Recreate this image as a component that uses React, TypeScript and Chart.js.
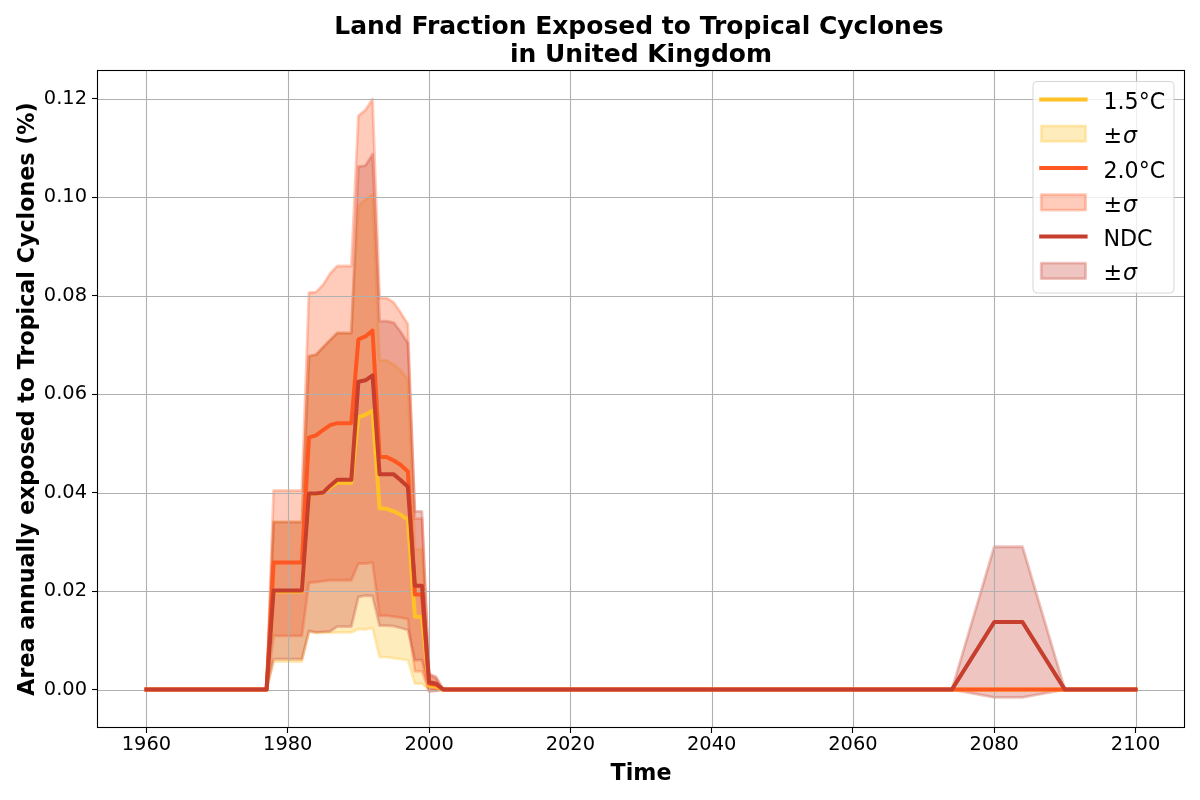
import React, { useEffect, useRef } from 'react';
import { Chart, registerables } from 'chart.js';

Chart.register(...registerables);

// ---- data ----
const years = [
  1960, 1977, 1978, 1979, 1980, 1981, 1982, 1983, 1984, 1985, 1986, 1987, 1988, 1989,
  1990, 1991, 1992, 1993, 1994, 1995, 1996, 1997, 1998, 1999, 2000, 2001, 2002,
  2074, 2080, 2084, 2090, 2100,
];

const mean15 = [
  0, 0, 0.0199, 0.0199, 0.0199, 0.0199, 0.0199, 0.0397, 0.0397, 0.04, 0.041, 0.042, 0.042, 0.042,
  0.0553, 0.0558, 0.0566, 0.0368, 0.0367, 0.0362, 0.0355, 0.0345, 0.0148, 0.0148, 0.0008, 0.0006, 0,
  0, 0, 0, 0, 0,
];
const upper15 = [
  0, 0, 0.0341, 0.0341, 0.0341, 0.0341, 0.0341, 0.0677, 0.068, 0.0695, 0.071, 0.0724, 0.0724, 0.0724,
  0.0982, 0.0995, 0.1005, 0.0669, 0.0668, 0.066, 0.0648, 0.063, 0.0285, 0.0285, 0.0018, 0.0014, 0,
  0, 0, 0, 0, 0,
];
const lower15 = [
  0, 0, 0.0057, 0.0057, 0.0057, 0.0057, 0.0057, 0.0117, 0.0115, 0.0115, 0.0115, 0.0116, 0.0116, 0.0116,
  0.0123, 0.0122, 0.0125, 0.0066, 0.0066, 0.0064, 0.0062, 0.006, 0.0012, 0.0012, 0, 0, 0,
  0, 0, 0, 0, 0,
];

const mean20 = [
  0, 0, 0.0258, 0.0258, 0.0258, 0.0258, 0.0258, 0.0512, 0.0516, 0.0527, 0.0537, 0.0541, 0.0541, 0.0541,
  0.0711, 0.0717, 0.0729, 0.0472, 0.0472, 0.0465, 0.0456, 0.0443, 0.0193, 0.0193, 0.0012, 0.001, 0,
  0, 0, 0, 0, 0,
];
const upper20 = [
  0, 0, 0.0404, 0.0404, 0.0404, 0.0404, 0.0404, 0.0806, 0.0807, 0.0822, 0.0845, 0.086, 0.086, 0.086,
  0.1165, 0.1177, 0.1199, 0.0795, 0.0795, 0.0786, 0.0765, 0.0742, 0.0347, 0.0347, 0.003, 0.0022, 0,
  0, 0, 0, 0, 0,
];
const lower20 = [
  0, 0, 0.0109, 0.0109, 0.0109, 0.0109, 0.0109, 0.0217, 0.0218, 0.022, 0.0222, 0.0222, 0.0222, 0.0222,
  0.0256, 0.0256, 0.0258, 0.015, 0.015, 0.0148, 0.0146, 0.0143, 0.0037, 0.0037, -0.0004, -0.0002, 0,
  0, 0, 0, 0, 0,
];

const meanNDC = [
  0, 0, 0.0201, 0.0201, 0.0201, 0.0201, 0.0201, 0.0398, 0.0398, 0.04, 0.0414, 0.0426, 0.0426, 0.0426,
  0.0625, 0.0628, 0.0638, 0.0437, 0.0437, 0.0437, 0.0425, 0.0412, 0.0211, 0.0211, 0.0015, 0.0012, 0,
  0, 0.0137, 0.0137, 0, 0,
];
const upperNDC = [
  0, 0, 0.034, 0.034, 0.034, 0.034, 0.034, 0.0677, 0.068, 0.0695, 0.071, 0.0724, 0.0724, 0.0724,
  0.1062, 0.1064, 0.1087, 0.0748, 0.0748, 0.0745, 0.0726, 0.0703, 0.0362, 0.0362, 0.0032, 0.0026, 0,
  0, 0.029, 0.029, 0, 0,
];
const lowerNDC = [
  0, 0, 0.0062, 0.0062, 0.0062, 0.0062, 0.0062, 0.0119, 0.0116, 0.0117, 0.0118, 0.0128, 0.0128, 0.0128,
  0.0188, 0.0191, 0.019, 0.013, 0.013, 0.0129, 0.0125, 0.0121, 0.006, 0.006, -0.0002, -0.0002, 0,
  0, -0.0016, -0.0016, 0, 0,
];

const xTicks = [1960, 1980, 2000, 2020, 2040, 2060, 2080, 2100];
const yTicks = [0, 0.02, 0.04, 0.06, 0.08, 0.1, 0.12];

const seriesNames = ['1.5°C', '2.0°C', 'NDC'];
const bandName = '±σ';
const titleLines = ['Land Fraction Exposed to Tropical Cyclones', 'in United Kingdom'];
const xTitle = 'Time';
const yTitle = 'Area annually exposed to Tropical Cyclones (%)';

// ---- styles ----
const C15: [number, number, number] = [255, 193, 37];
const C20: [number, number, number] = [255, 87, 34];
const CNDC: [number, number, number] = [198, 62, 46];
const rgba = (c: [number, number, number], a: number) => `rgba(${c[0]},${c[1]},${c[2]},${a})`;
const FONT = '"DejaVu Sans", "Liberation Sans", sans-serif';

const pts = (ys: number[]) => years.map((x, i) => ({ x, y: ys[i] }));

function bandSet(ys: number[], c: [number, number, number], order: number, fill: any) {
  return {
    data: pts(ys),
    borderColor: rgba(c, 0.3),
    backgroundColor: rgba(c, 0.3),
    borderWidth: 2.8,
    borderJoinStyle: 'round',
    pointRadius: 0,
    pointHoverRadius: 0,
    tension: 0,
    fill,
    order,
  };
}
function lineSet(ys: number[], c: [number, number, number], order: number) {
  return {
    data: pts(ys),
    borderColor: rgba(c, 1),
    backgroundColor: rgba(c, 1),
    borderWidth: 4,
    borderJoinStyle: 'round',
    borderCapStyle: 'square',
    pointRadius: 0,
    pointHoverRadius: 0,
    tension: 0,
    fill: false,
    order,
  };
}

const overlayPlugin = {
  id: 'overlay',
  afterDatasetDraw(chart: any, args: any) {
    if (args.index !== 5) return;
    // grid above bands, below lines (as matplotlib zorder)
    const { ctx, chartArea: a, scales } = chart;
    ctx.save();
    ctx.beginPath();
    ctx.rect(a.left, a.top, a.right - a.left, a.bottom - a.top);
    ctx.clip();
    ctx.strokeStyle = '#b0b0b0';
    ctx.lineWidth = 1.1;
    for (const v of xTicks) {
      const px = Math.round(scales.x.getPixelForValue(v)) + 0.5;
      ctx.beginPath();
      ctx.moveTo(px, a.top);
      ctx.lineTo(px, a.bottom);
      ctx.stroke();
    }
    for (const v of yTicks) {
      const py = Math.round(scales.y.getPixelForValue(v)) + 0.5;
      ctx.beginPath();
      ctx.moveTo(a.left, py);
      ctx.lineTo(a.right, py);
      ctx.stroke();
    }
    ctx.restore();
  },
  afterDraw(chart: any) {
    const { ctx, chartArea: a } = chart;
    ctx.save();
    // frame
    ctx.strokeStyle = '#000';
    ctx.lineWidth = 1.1;
    ctx.strokeRect(Math.round(a.left) + 0.5, Math.round(a.top) + 0.5, Math.round(a.right - a.left) - 1, Math.round(a.bottom - a.top) - 1);

    const cx = (a.left + a.right) / 2;
    // title
    ctx.fillStyle = '#000';
    ctx.textAlign = 'center';
    ctx.textBaseline = 'alphabetic';
    ctx.font = `bold 25px ${FONT}`;
    ctx.fillText(titleLines[0], cx - 2, 34);
    ctx.fillText(titleLines[1], cx, 61.5);
    // axis titles
    ctx.font = `bold 22.2px ${FONT}`;
    ctx.fillText(xTitle, cx, 779.5);
    ctx.save();
    ctx.translate(33.5, (a.top + a.bottom) / 2);
    ctx.rotate(-Math.PI / 2);
    ctx.fillText(yTitle, 0, 0);
    ctx.restore();

    // legend
    const lx = 1033, ly = 81.5, lw = 141, lh = 211.5, r = 4;
    ctx.beginPath();
    ctx.moveTo(lx + r, ly);
    ctx.lineTo(lx + lw - r, ly);
    ctx.arcTo(lx + lw, ly, lx + lw, ly + r, r);
    ctx.lineTo(lx + lw, ly + lh - r);
    ctx.arcTo(lx + lw, ly + lh, lx + lw - r, ly + lh, r);
    ctx.lineTo(lx + r, ly + lh);
    ctx.arcTo(lx, ly + lh, lx, ly + lh - r, r);
    ctx.lineTo(lx, ly + r);
    ctx.arcTo(lx, ly, lx + r, ly, r);
    ctx.closePath();
    ctx.fillStyle = 'rgba(255,255,255,0.8)';
    ctx.fill();
    ctx.strokeStyle = 'rgba(204,204,204,0.8)';
    ctx.lineWidth = 1;
    ctx.stroke();

    const cols = [C15, C20, CNDC];
    const hx0 = 1041.2, hx1 = 1085.6, tx = 1103.4;
    for (let i = 0; i < 6; i++) {
      const cy = 99.4 + i * 34.3;
      const c = cols[Math.floor(i / 2)];
      if (i % 2 === 0) {
        ctx.strokeStyle = rgba(c, 1);
        ctx.lineWidth = 4;
        ctx.lineCap = 'square';
        ctx.beginPath();
        ctx.moveTo(hx0, cy);
        ctx.lineTo(hx1, cy);
        ctx.stroke();
        ctx.lineCap = 'butt';
        ctx.fillStyle = '#000';
        ctx.textAlign = 'left';
        ctx.font = `22.2px ${FONT}`;
        ctx.fillText(seriesNames[i / 2], tx, cy + 9.5);
      } else {
        const h = 15.5;
        ctx.fillStyle = rgba(c, 0.3);
        ctx.fillRect(hx0, cy - h / 2, hx1 - hx0, h);
        ctx.strokeStyle = rgba(c, 0.3);
        ctx.lineWidth = 2.8;
        ctx.lineJoin = 'round';
        ctx.strokeRect(hx0, cy - h / 2, hx1 - hx0, h);
        ctx.fillStyle = '#000';
        ctx.textAlign = 'left';
        ctx.font = `22.2px ${FONT}`;
        const pm = bandName.slice(0, 1);
        const sg = bandName.slice(1);
        ctx.fillText(pm, tx, cy + 9.5);
        const w = ctx.measureText(pm).width;
        ctx.font = `italic 22.2px ${FONT}`;
        ctx.fillText(sg, tx + w + 1, cy + 9.5);
      }
    }
    ctx.restore();
  },
};

export default function App() {
  const ref = useRef<HTMLCanvasElement | null>(null);
  useEffect(() => {
    if (!ref.current) return;
    const datasets: any[] = [
      bandSet(upper15, C15, 9, 1),
      bandSet(lower15, C15, 8, false),
      bandSet(upper20, C20, 7, 3),
      bandSet(lower20, C20, 6, false),
      bandSet(upperNDC, CNDC, 5, 5),
      bandSet(lowerNDC, CNDC, 4, false),
      lineSet(mean15, C15, 3),
      lineSet(mean20, C20, 2),
      lineSet(meanNDC, CNDC, 1),
    ];
    const tickFont = { family: FONT, size: 19.4 };
    const chart = new Chart(ref.current, {
      type: 'line',
      data: { datasets },
      options: {
        animation: false,
        responsive: false,
        maintainAspectRatio: false,
        events: [],
        layout: { padding: { left: 0, top: 70, right: 15, bottom: 0 } },
        plugins: {
          legend: { display: false },
          title: { display: false },
          tooltip: { enabled: false },
          filler: { propagate: false },
        },
        scales: {
          x: {
            type: 'linear',
            min: 1953,
            max: 2107,
            border: { display: false },
            grid: { display: true, drawOnChartArea: false, drawTicks: true, tickLength: 5, tickColor: '#000', tickWidth: 1.1 },
            ticks: {
              color: '#000',
              font: tickFont,
              padding: 0.7,
              maxRotation: 0,
              autoSkip: false,
              callback: (v: any) => String(v),
            },
            afterBuildTicks: (s: any) => {
              s.ticks = xTicks.map((value) => ({ value }));
            },
            afterFit: (s: any) => {
              s.height = 72;
            },
          },
          y: {
            type: 'linear',
            min: -0.0078,
            max: 0.1258,
            border: { display: false },
            grid: { display: true, drawOnChartArea: false, drawTicks: true, tickLength: 5, tickColor: '#000', tickWidth: 1.1 },
            ticks: {
              color: '#000',
              font: tickFont,
              padding: 5,
              callback: (v: any) => Number(v).toFixed(2),
            },
            afterBuildTicks: (s: any) => {
              s.ticks = yTicks.map((value) => ({ value }));
            },
            afterFit: (s: any) => {
              s.width = 97;
            },
          },
        },
      } as any,
      plugins: [overlayPlugin],
    });
    return () => chart.destroy();
  }, []);
  return (
    <div style={{ position: 'fixed', left: 0, top: 0, width: 1200, height: 800, background: '#fff' }}>
      <canvas ref={ref} width={1200} height={800} style={{ width: 1200, height: 800, display: 'block' }} />
    </div>
  );
}
